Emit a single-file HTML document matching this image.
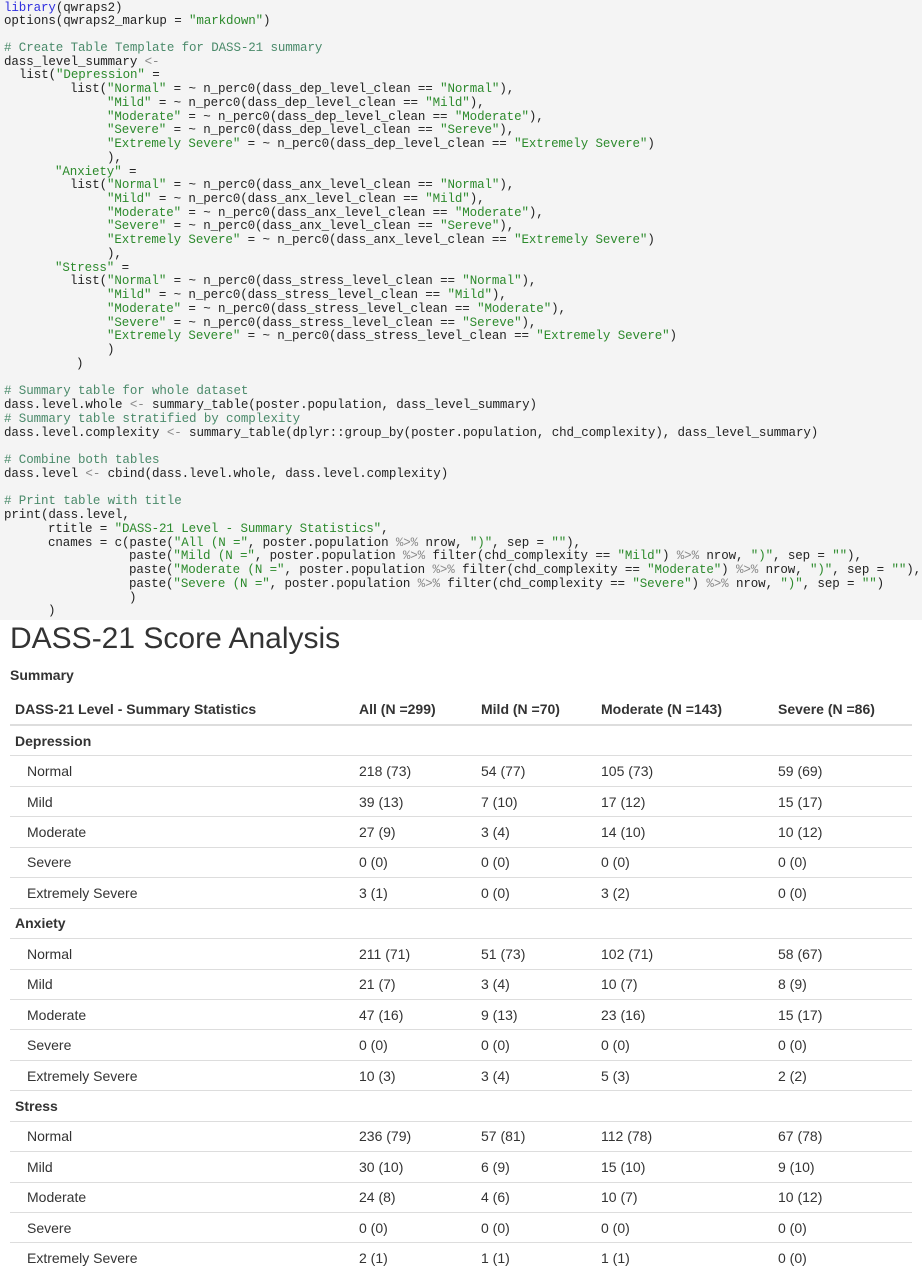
<!DOCTYPE html>
<html><head><meta charset="utf-8"><style>
body{margin:0;width:922px;height:1287px;background:#fff;position:relative;overflow:hidden;font-family:"Liberation Sans",sans-serif;}
#code{position:absolute;left:0;top:0;width:922px;height:620px;background:#f4f4f4;}
.l{position:absolute;font-family:"Liberation Mono",monospace;font-size:12.5px;color:#222;white-space:pre;line-height:14px;letter-spacing:-0.1px;}
.s{color:#2c8a2c}.c{color:#4a8a6a}.k{color:#3030e0}.o{color:#888}
h1{position:absolute;left:10px;top:622px;margin:0;font-weight:normal;font-size:30px;color:#333;}
#sum{position:absolute;left:10px;top:667px;font-weight:bold;font-size:14px;color:#333;}
table{position:absolute;left:10px;top:693px;width:902px;border-collapse:collapse;font-size:14px;color:#333;}
th{text-align:left;height:31px;border-bottom:2px solid #ddd;padding:0 5px;}
td{height:29.45px;border-bottom:1px solid #ddd;padding:0 5px;}
td.i{padding-left:17px}
</style></head><body>
<div id="code">
<div class="l" style="left:4px;top:1px"><span class="k">library</span>(qwraps2)</div>
<div class="l" style="left:4px;top:14px">options(qwraps2_markup = <span class="s">"markdown"</span>)</div>
<div class="l c" style="left:4px;top:41px"># Create Table Template for DASS-21 summary</div>
<div class="l" style="left:4px;top:55px">dass_level_summary <span class="o">&lt;-</span></div>
<div class="l" style="left:19px;top:68px">list(<span class="s">"Depression"</span> =</div>
<div class="l" style="left:70px;top:82px">list(<span class="s">"Normal"</span> = ~ n_perc0(dass_dep_level_clean == <span class="s">"Normal"</span>),</div>
<div class="l" style="left:107px;top:96px"><span class="s">"Mild"</span> = ~ n_perc0(dass_dep_level_clean == <span class="s">"Mild"</span>),</div>
<div class="l" style="left:107px;top:110px"><span class="s">"Moderate"</span> = ~ n_perc0(dass_dep_level_clean == <span class="s">"Moderate"</span>),</div>
<div class="l" style="left:107px;top:123px"><span class="s">"Severe"</span> = ~ n_perc0(dass_dep_level_clean == <span class="s">"Sereve"</span>),</div>
<div class="l" style="left:107px;top:137px"><span class="s">"Extremely Severe"</span> = ~ n_perc0(dass_dep_level_clean == <span class="s">"Extremely Severe"</span>)</div>
<div class="l" style="left:107px;top:151px">),</div>
<div class="l" style="left:55px;top:165px"><span class="s">"Anxiety"</span> =</div>
<div class="l" style="left:70px;top:178px">list(<span class="s">"Normal"</span> = ~ n_perc0(dass_anx_level_clean == <span class="s">"Normal"</span>),</div>
<div class="l" style="left:107px;top:192px"><span class="s">"Mild"</span> = ~ n_perc0(dass_anx_level_clean == <span class="s">"Mild"</span>),</div>
<div class="l" style="left:107px;top:206px"><span class="s">"Moderate"</span> = ~ n_perc0(dass_anx_level_clean == <span class="s">"Moderate"</span>),</div>
<div class="l" style="left:107px;top:219px"><span class="s">"Severe"</span> = ~ n_perc0(dass_anx_level_clean == <span class="s">"Sereve"</span>),</div>
<div class="l" style="left:107px;top:233px"><span class="s">"Extremely Severe"</span> = ~ n_perc0(dass_anx_level_clean == <span class="s">"Extremely Severe"</span>)</div>
<div class="l" style="left:107px;top:247px">),</div>
<div class="l" style="left:55px;top:261px"><span class="s">"Stress"</span> =</div>
<div class="l" style="left:70px;top:274px">list(<span class="s">"Normal"</span> = ~ n_perc0(dass_stress_level_clean == <span class="s">"Normal"</span>),</div>
<div class="l" style="left:107px;top:288px"><span class="s">"Mild"</span> = ~ n_perc0(dass_stress_level_clean == <span class="s">"Mild"</span>),</div>
<div class="l" style="left:107px;top:302px"><span class="s">"Moderate"</span> = ~ n_perc0(dass_stress_level_clean == <span class="s">"Moderate"</span>),</div>
<div class="l" style="left:107px;top:316px"><span class="s">"Severe"</span> = ~ n_perc0(dass_stress_level_clean == <span class="s">"Sereve"</span>),</div>
<div class="l" style="left:107px;top:329px"><span class="s">"Extremely Severe"</span> = ~ n_perc0(dass_stress_level_clean == <span class="s">"Extremely Severe"</span>)</div>
<div class="l" style="left:107px;top:343px">)</div>
<div class="l" style="left:76px;top:357px">)</div>
<div class="l c" style="left:4px;top:384px"># Summary table for whole dataset</div>
<div class="l" style="left:4px;top:398px">dass.level.whole <span class="o">&lt;-</span> summary_table(poster.population, dass_level_summary)</div>
<div class="l c" style="left:4px;top:412px"># Summary table stratified by complexity</div>
<div class="l" style="left:4px;top:426px">dass.level.complexity <span class="o">&lt;-</span> summary_table(dplyr::group_by(poster.population, chd_complexity), dass_level_summary)</div>
<div class="l c" style="left:4px;top:453px"># Combine both tables</div>
<div class="l" style="left:4px;top:467px">dass.level <span class="o">&lt;-</span> cbind(dass.level.whole, dass.level.complexity)</div>
<div class="l c" style="left:4px;top:494px"># Print table with title</div>
<div class="l" style="left:4px;top:508px">print(dass.level,</div>
<div class="l" style="left:48px;top:522px">rtitle = <span class="s">"DASS-21 Level - Summary Statistics"</span>,</div>
<div class="l" style="left:48px;top:536px">cnames = c(paste(<span class="s">"All (N ="</span>, poster.population <span class="o">%&gt;%</span> nrow, <span class="s">")"</span>, sep = <span class="s">""</span>),</div>
<div class="l" style="left:129px;top:549px">paste(<span class="s">"Mild (N ="</span>, poster.population <span class="o">%&gt;%</span> filter(chd_complexity == <span class="s">"Mild"</span>) <span class="o">%&gt;%</span> nrow, <span class="s">")"</span>, sep = <span class="s">""</span>),</div>
<div class="l" style="left:129px;top:563px">paste(<span class="s">"Moderate (N ="</span>, poster.population <span class="o">%&gt;%</span> filter(chd_complexity == <span class="s">"Moderate"</span>) <span class="o">%&gt;%</span> nrow, <span class="s">")"</span>, sep = <span class="s">""</span>),</div>
<div class="l" style="left:129px;top:577px">paste(<span class="s">"Severe (N ="</span>, poster.population <span class="o">%&gt;%</span> filter(chd_complexity == <span class="s">"Severe"</span>) <span class="o">%&gt;%</span> nrow, <span class="s">")"</span>, sep = <span class="s">""</span>)</div>
<div class="l" style="left:129px;top:591px">)</div>
<div class="l" style="left:48px;top:604px">)</div>
</div>
<h1>DASS-21 Score Analysis</h1>
<div id="sum">Summary</div>
<table>
<colgroup><col style="width:344px"><col style="width:122px"><col style="width:120px"><col style="width:177px"><col></colgroup>
<thead><tr><th>DASS-21 Level - Summary Statistics</th><th>All (N =299)</th><th>Mild (N =70)</th><th>Moderate (N =143)</th><th>Severe (N =86)</th></tr></thead>
<tbody>
<tr><td><b>Depression</b></td><td></td><td></td><td></td><td></td></tr>
<tr><td class="i">Normal</td><td>218 (73)</td><td>54 (77)</td><td>105 (73)</td><td>59 (69)</td></tr>
<tr><td class="i">Mild</td><td>39 (13)</td><td>7 (10)</td><td>17 (12)</td><td>15 (17)</td></tr>
<tr><td class="i">Moderate</td><td>27 (9)</td><td>3 (4)</td><td>14 (10)</td><td>10 (12)</td></tr>
<tr><td class="i">Severe</td><td>0 (0)</td><td>0 (0)</td><td>0 (0)</td><td>0 (0)</td></tr>
<tr><td class="i">Extremely Severe</td><td>3 (1)</td><td>0 (0)</td><td>3 (2)</td><td>0 (0)</td></tr>
<tr><td><b>Anxiety</b></td><td></td><td></td><td></td><td></td></tr>
<tr><td class="i">Normal</td><td>211 (71)</td><td>51 (73)</td><td>102 (71)</td><td>58 (67)</td></tr>
<tr><td class="i">Mild</td><td>21 (7)</td><td>3 (4)</td><td>10 (7)</td><td>8 (9)</td></tr>
<tr><td class="i">Moderate</td><td>47 (16)</td><td>9 (13)</td><td>23 (16)</td><td>15 (17)</td></tr>
<tr><td class="i">Severe</td><td>0 (0)</td><td>0 (0)</td><td>0 (0)</td><td>0 (0)</td></tr>
<tr><td class="i">Extremely Severe</td><td>10 (3)</td><td>3 (4)</td><td>5 (3)</td><td>2 (2)</td></tr>
<tr><td><b>Stress</b></td><td></td><td></td><td></td><td></td></tr>
<tr><td class="i">Normal</td><td>236 (79)</td><td>57 (81)</td><td>112 (78)</td><td>67 (78)</td></tr>
<tr><td class="i">Mild</td><td>30 (10)</td><td>6 (9)</td><td>15 (10)</td><td>9 (10)</td></tr>
<tr><td class="i">Moderate</td><td>24 (8)</td><td>4 (6)</td><td>10 (7)</td><td>10 (12)</td></tr>
<tr><td class="i">Severe</td><td>0 (0)</td><td>0 (0)</td><td>0 (0)</td><td>0 (0)</td></tr>
<tr><td class="i" style="border-bottom:none">Extremely Severe</td><td style="border-bottom:none">2 (1)</td><td style="border-bottom:none">1 (1)</td><td style="border-bottom:none">1 (1)</td><td style="border-bottom:none">0 (0)</td></tr>
</tbody></table>
</body></html>
